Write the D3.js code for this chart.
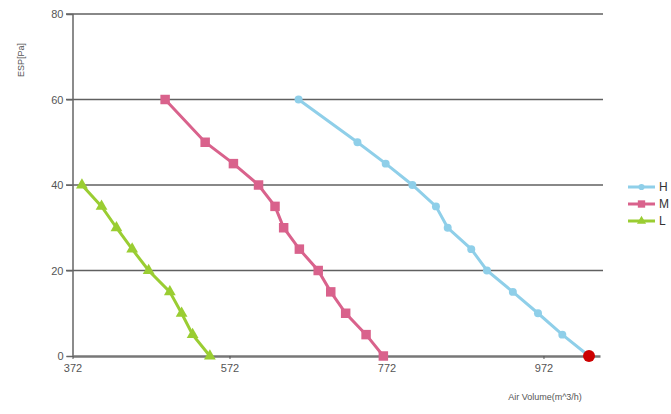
<!DOCTYPE html>
<html><head><meta charset="utf-8">
<script src="https://cdn.jsdelivr.net/npm/d3@7"></script>
<style>body{margin:0;background:#fff;}svg{display:block;font-family:Arial,"Liberation Sans",sans-serif;}</style>
</head><body><svg id="c" width="671" height="414"></svg>
<script>
const seriesNames = ["H", "M", "L"];
const seriesColors = ["#8fcfe9", "#d9628c", "#9acd32"];
const esp = [60, 50, 45, 40, 35, 30, 25, 20, 15, 10, 5, 0];
const espLow = [40, 35, 30, 25, 20, 15, 10, 5, 0];
const airH = [660, 735, 771, 805, 835, 850, 880, 900, 933, 965, 996, 1030];
const airM = [490, 541, 577, 609, 630, 641, 661, 685, 701, 720, 746, 768];
const airL = [384, 409, 428, 448, 469, 496, 511, 525, 547];
const xTicks = [372, 572, 772, 972];
const yTicks = [0, 20, 40, 60, 80];
const xTitle = "Air Volume(m^3/h)";
const yTitle = "ESP[Pa]";

const svg = d3.select("#c");
const x = d3.scaleLinear().domain([372, 1044]).range([72.5, 600]);
const y = d3.scaleLinear().domain([0, 80]).range([356, 14]);

// gridlines
svg.append("g").selectAll("line").data(yTicks.filter(d => d > 0)).join("line")
  .attr("x1", 66).attr("x2", 603).attr("y1", d => y(d)).attr("y2", d => y(d))
  .attr("stroke", "#606060").attr("stroke-width", 1.5);

// y axis
const ya = svg.append("g").attr("transform", "translate(72.5,0)")
  .call(d3.axisLeft(y).tickValues(yTicks).tickSize(6).tickPadding(3));
ya.select(".domain").attr("stroke", "#666").attr("stroke-width", 1.5);
ya.selectAll(".tick line").attr("stroke", "#666");
ya.selectAll("text").attr("fill", "#555").style("font-size", "11px");

// x axis
const xa = svg.append("g").attr("transform", "translate(0,356)")
  .call(d3.axisBottom(x).tickValues(xTicks).tickSize(3).tickPadding(5).tickSizeOuter(0));
xa.select(".domain").attr("stroke", "#777").attr("stroke-width", 2.5);
xa.selectAll(".tick line").attr("stroke", "#555");
xa.selectAll("text").attr("fill", "#555").style("font-size", "11px");

svg.append("text").attr("transform", "translate(24,60) rotate(-90)")
  .attr("text-anchor", "middle").attr("fill", "#555").style("font-size", "9px").text(yTitle);
svg.append("text").attr("x", 545).attr("y", 400).attr("text-anchor", "middle")
  .attr("fill", "#555").style("font-size", "9px").text(xTitle);

const data = [
  {name: seriesNames[0], color: seriesColors[0], xs: airH, ys: esp, sym: d3.symbolCircle, size: 50},
  {name: seriesNames[1], color: seriesColors[1], xs: airM, ys: esp, sym: d3.symbolSquare, size: 90},
  {name: seriesNames[2], color: seriesColors[2], xs: airL, ys: espLow, sym: d3.symbolTriangle, size: 60}
];
const line = d3.line().x(d => x(d[0])).y(d => y(d[1]));
data.forEach(s => {
  const pts = s.xs.map((v, i) => [v, s.ys[i]]);
  svg.append("path").attr("d", line(pts)).attr("fill", "none")
    .attr("stroke", s.color).attr("stroke-width", 3);
  svg.append("g").selectAll("path").data(pts).join("path")
    .attr("transform", d => `translate(${x(d[0])},${y(d[1])})`)
    .attr("d", d3.symbol().type(s.sym).size(s.size))
    .attr("fill", s.color);
});
// highlighted point
const last = airH.length - 1;
svg.append("circle").attr("cx", x(airH[last])).attr("cy", y(esp[last])).attr("r", 6)
  .attr("fill", "#cc0000");

// legend
const lg = svg.append("g");
data.forEach((s, i) => {
  const ly = 187 + i * 17;
  lg.append("line").attr("x1", 628).attr("x2", 655).attr("y1", ly).attr("y2", ly)
    .attr("stroke", s.color).attr("stroke-width", 3);
  lg.append("path").attr("transform", `translate(641.5,${ly})`)
    .attr("d", d3.symbol().type(s.sym).size(s.size * 0.6)).attr("fill", s.color);
  lg.append("text").attr("x", 659).attr("y", ly + 4).attr("fill", "#333")
    .style("font-size", "12px").text(s.name);
});
</script></body></html>
